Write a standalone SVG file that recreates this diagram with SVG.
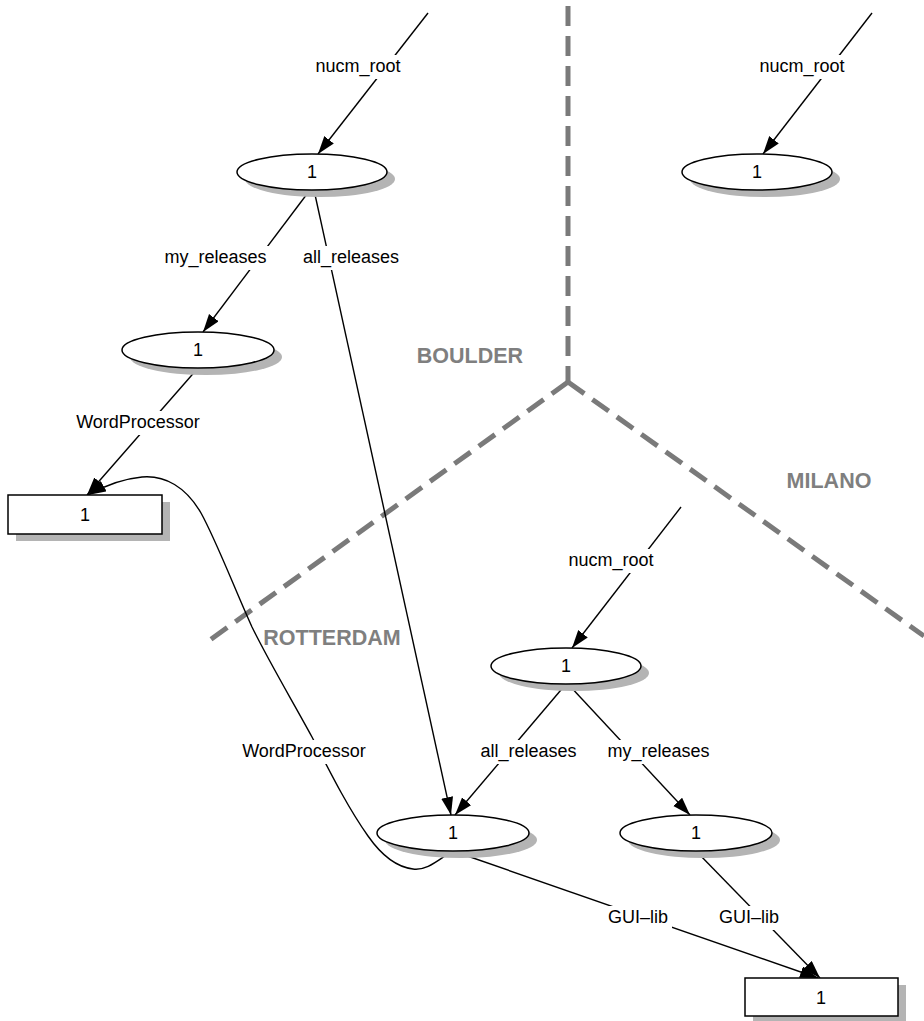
<svg xmlns="http://www.w3.org/2000/svg" width="924" height="1021" viewBox="0 0 924 1021">
<style>
.node{fill:#fff;stroke:#000;stroke-width:1.5}
.shadow{fill:#b4b4b4;stroke:none}
.nt{font-family:"Liberation Sans",Arial,sans-serif;font-size:18px;text-anchor:middle;fill:#000}
.edge{fill:none;stroke:#000;stroke-width:1.4}
.lbg{fill:#fff;stroke:none}
.region{fill:none;stroke:#7a7a7a;stroke-width:5;stroke-dasharray:20,10}
.rl{font-family:"Liberation Sans",Arial,sans-serif;font-size:21.5px;font-weight:bold;text-anchor:middle;fill:#7f7f7f}
</style>
<defs>
<marker id="arr" markerUnits="userSpaceOnUse" markerWidth="20" markerHeight="13" refX="18" refY="6" orient="auto">
<path d="M0,0 L18,6 L0,12 z" fill="#000"/>
</marker>
</defs>
<g id="regions">
<path class="region" d="M568,6 L568,382"/>
<path class="region" d="M568,382 L203,645"/>
<path class="region" d="M568,382 L924,636"/>
<text class="rl" x="470" y="363">BOULDER</text>
<text class="rl" x="829" y="488">MILANO</text>
<text class="rl" x="332" y="645">ROTTERDAM</text>
</g>
<g id="connectors">
<path class="edge" marker-end="url(#arr)" d="M428,13 L318,154"/>
<path class="edge" marker-end="url(#arr)" d="M872,13 L763,154"/>
<path class="edge" marker-end="url(#arr)" d="M681,507 L572,648"/>
<path class="edge" marker-end="url(#arr)" d="M310,190 L203,332"/>
<path class="edge" marker-end="url(#arr)" d="M314,190 L451,815"/>
<path class="edge" marker-end="url(#arr)" d="M198,368 L87,495"/>
<path class="edge" marker-end="url(#arr)" d="M566,684 L455,815"/>
<path class="edge" marker-end="url(#arr)" d="M568,684 L690,815"/>
<path class="edge" marker-end="url(#arr)" d="M453,851 L818,978"/>
<path class="edge" marker-end="url(#arr)" d="M696,851 L820,978"/>
<path class="edge" marker-end="url(#arr)" d="M453,851 C440,858 428,871 413,869 C396,867 382,856 368,836 C348,808 330,772 312,737 C293,702 268,660 252,627 C236,592 216,540 201,513 C186,487 165,475 142,477 C121,479 104,486 88,495"/>
<rect class="lbg" x="313" y="55" width="91" height="24"/>
<text class="nt" x="358" y="72">nucm_root</text>
<rect class="lbg" x="757" y="55" width="91" height="24"/>
<text class="nt" x="802" y="72">nucm_root</text>
<rect class="lbg" x="566" y="549" width="91" height="24"/>
<text class="nt" x="611" y="566">nucm_root</text>
<rect class="lbg" x="161" y="246" width="109" height="24"/>
<text class="nt" x="215.5" y="263">my_releases</text>
<rect class="lbg" x="300" y="246" width="102" height="24"/>
<text class="nt" x="351" y="263">all_releases</text>
<rect class="lbg" x="71" y="411" width="134" height="24"/>
<text class="nt" x="138" y="428">WordProcessor</text>
<rect class="lbg" x="237" y="740" width="134" height="24"/>
<text class="nt" x="304" y="757">WordProcessor</text>
<rect class="lbg" x="476" y="740" width="105" height="24"/>
<text class="nt" x="528.5" y="757">all_releases</text>
<rect class="lbg" x="605" y="740" width="107" height="24"/>
<text class="nt" x="658.5" y="757">my_releases</text>
<rect class="lbg" x="604" y="906" width="68" height="24"/>
<text class="nt" x="638" y="923">GUI–lib</text>
<rect class="lbg" x="715" y="906" width="68" height="24"/>
<text class="nt" x="749" y="923">GUI–lib</text>
</g>
<g id="n_boulder_root">
<ellipse class="shadow" cx="320" cy="179" rx="75" ry="18"/>
<ellipse class="node" cx="312" cy="172" rx="75" ry="18"/>
<text class="nt" x="312" y="178">1</text>
</g>
<g id="n_boulder_my">
<ellipse class="shadow" cx="206" cy="357" rx="76" ry="18"/>
<ellipse class="node" cx="198" cy="350" rx="76" ry="18"/>
<text class="nt" x="198" y="356">1</text>
</g>
<g id="n_boulder_wp">
<rect class="shadow" x="16" y="502" width="154" height="39"/>
<rect class="node" x="8" y="495" width="154" height="39"/>
<text class="nt" x="85" y="521">1</text>
</g>
<g id="n_milano_root">
<ellipse class="shadow" cx="765" cy="179" rx="75" ry="18"/>
<ellipse class="node" cx="757" cy="172" rx="75" ry="18"/>
<text class="nt" x="757" y="178">1</text>
</g>
<g id="n_rotterdam_root">
<ellipse class="shadow" cx="574" cy="673" rx="75" ry="18"/>
<ellipse class="node" cx="566" cy="666" rx="75" ry="18"/>
<text class="nt" x="566" y="672">1</text>
</g>
<g id="n_rotterdam_all">
<ellipse class="shadow" cx="461" cy="840" rx="76" ry="18"/>
<ellipse class="node" cx="453" cy="833" rx="76" ry="18"/>
<text class="nt" x="453" y="839">1</text>
</g>
<g id="n_rotterdam_my">
<ellipse class="shadow" cx="704" cy="840" rx="76" ry="18"/>
<ellipse class="node" cx="696" cy="833" rx="76" ry="18"/>
<text class="nt" x="696" y="839">1</text>
</g>
<g id="n_rotterdam_gui">
<rect class="shadow" x="753" y="985" width="153" height="38"/>
<rect class="node" x="745" y="978" width="153" height="38"/>
<text class="nt" x="821" y="1004">1</text>
</g>
</svg>
